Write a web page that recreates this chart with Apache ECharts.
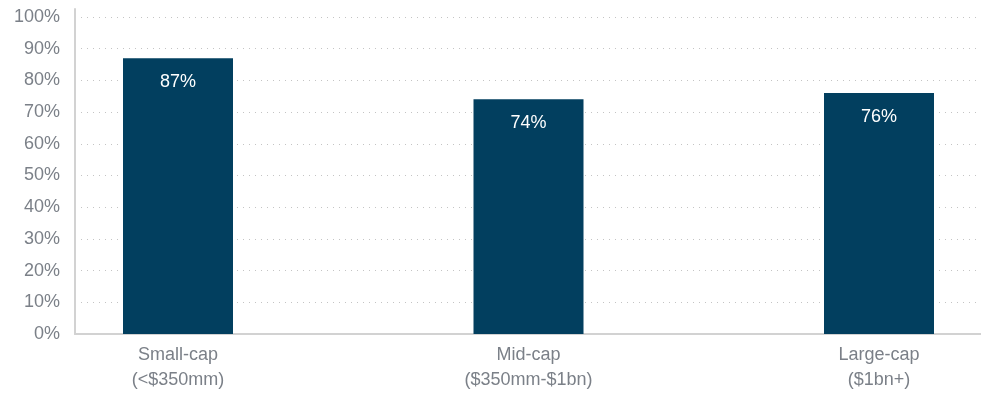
<!DOCTYPE html>
<html>
<head>
<meta charset="utf-8">
<script src="https://cdn.jsdelivr.net/npm/echarts@6/dist/echarts.min.js"></script>
<style>
  html, body { margin: 0; padding: 0; background: #ffffff; }
  #chart { width: 981px; height: 400px; }
</style>
</head>
<body>
<div id="chart"></div>
<script>
// Share of companies by market-cap bucket
const categories = ['Small-cap\n(<$350mm)', 'Mid-cap\n($350mm-$1bn)', 'Large-cap\n($1bn+)'];
const shares = [87, 74, 76];
const yTicks = [0, 10, 20, 30, 40, 50, 60, 70, 80, 90, 100];

const FONT = '"Liberation Sans", Arial, Helvetica, sans-serif';
const GREY_TEXT = '#7b8088';
const AXIS_GREY = '#d2d2d2';
const BAR_COLOR = '#023f5f';
const Y_MAX = 102.5;

const chart = echarts.init(document.getElementById('chart'), null, { renderer: 'canvas' });

chart.setOption({
  animation: false,
  grid: [
    // frame grid: y axis, gridlines and baseline
    { left: 75, right: 0, top: 9, bottom: 66, outerBoundsMode: 'none' },
    // plotting grid for the bars and category labels
    { left: 2.75, width: 1051.5, top: 9, bottom: 66, outerBoundsMode: 'none' }
  ],
  xAxis: [
    {
      gridIndex: 0,
      type: 'category',
      data: categories,
      axisLine: { show: true, lineStyle: { color: AXIS_GREY, width: 2 } },
      axisTick: { show: false },
      axisLabel: { show: false },
      splitLine: { show: false }
    },
    {
      gridIndex: 1,
      type: 'category',
      data: categories,
      axisLine: { show: false },
      axisTick: { show: false },
      axisLabel: {
        interval: 0,
        color: GREY_TEXT,
        fontFamily: FONT,
        fontSize: 18,
        lineHeight: 25,
        margin: 9,
        align: 'center'
      }
    }
  ],
  yAxis: [
    {
      gridIndex: 0,
      type: 'value',
      min: 0,
      max: Y_MAX,
      interval: 10,
      axisLine: { show: true, lineStyle: { color: AXIS_GREY, width: 2 } },
      axisTick: { show: false },
      axisLabel: {
        color: GREY_TEXT,
        fontFamily: FONT,
        fontSize: 18,
        margin: 15,
        showMaxLabel: false,
        formatter: v => (yTicks.indexOf(v) >= 0 ? v + '%' : '')
      },
      splitLine: {
        show: true,
        showMinLine: false,
        showMaxLine: false,
        lineStyle: { color: '#c4c4c4', width: 1, type: [1, 5] }
      }
    },
    {
      gridIndex: 1,
      type: 'value',
      min: 0,
      max: Y_MAX,
      show: false,
      splitLine: { show: false }
    }
  ],
  series: [
    {
      type: 'bar',
      xAxisIndex: 1,
      yAxisIndex: 1,
      data: shares,
      barWidth: 110,
      itemStyle: { color: BAR_COLOR },
      label: {
        show: true,
        position: 'insideTop',
        distance: 15,
        color: '#ffffff',
        fontFamily: FONT,
        fontSize: 18,
        formatter: p => p.value + '%'
      }
    }
  ]
});
</script>
</body>
</html>
